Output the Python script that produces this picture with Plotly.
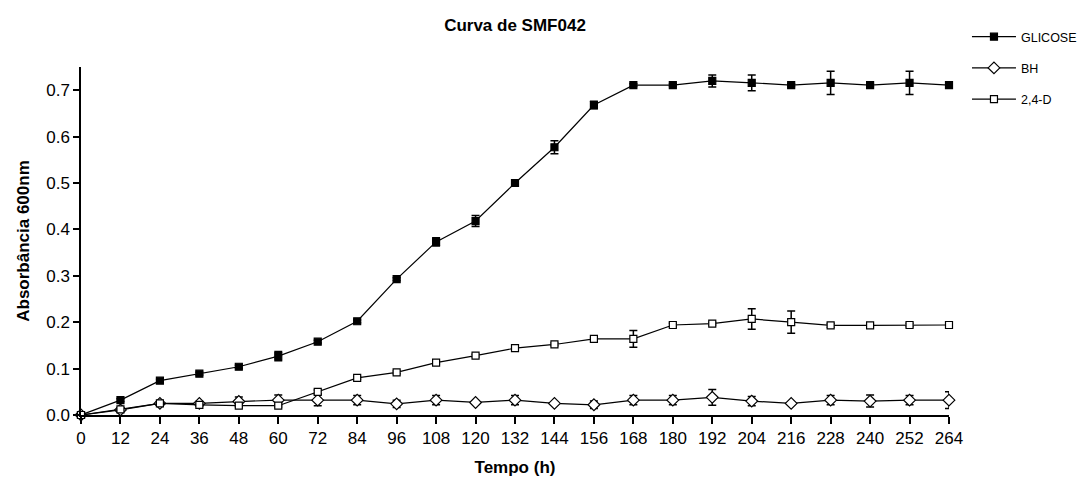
import plotly.graph_objects as go

hours = [0, 12, 24, 36, 48, 60, 72, 84, 96, 108, 120, 132, 144, 156, 168, 180, 192, 204, 216, 228, 240, 252, 264]

glicose = [0.0, 0.032, 0.074, 0.089, 0.104, 0.127, 0.158, 0.202, 0.293, 0.373, 0.418, 0.500, 0.577, 0.668, 0.711,
           0.711, 0.720, 0.716, 0.711, 0.716, 0.711, 0.716, 0.711]
glicose_err = [0.0, 0.003, 0.003, 0.003, 0.003, 0.010, 0.003, 0.003, 0.003, 0.009, 0.012, 0.003, 0.014, 0.008, 0.003,
               0.003, 0.013, 0.017, 0.003, 0.025, 0.003, 0.025, 0.003]

bh = [0.0, 0.011, 0.025, 0.025, 0.029, 0.032, 0.032, 0.032, 0.024, 0.032, 0.027, 0.032, 0.025, 0.022, 0.032,
      0.032, 0.038, 0.030, 0.025, 0.032, 0.030, 0.032, 0.032]
bh_err = [0.0, 0.003, 0.003, 0.003, 0.010, 0.011, 0.012, 0.010, 0.008, 0.010, 0.003, 0.010, 0.003, 0.008, 0.010,
          0.010, 0.017, 0.010, 0.003, 0.010, 0.013, 0.010, 0.018]

d24 = [0.0, 0.012, 0.025, 0.022, 0.020, 0.020, 0.050, 0.080, 0.092, 0.113, 0.128, 0.144, 0.152, 0.164, 0.164,
       0.194, 0.197, 0.207, 0.200, 0.193, 0.193, 0.194, 0.194]
d24_err = [0.0, 0.003, 0.003, 0.003, 0.003, 0.003, 0.004, 0.003, 0.003, 0.003, 0.003, 0.003, 0.003, 0.003, 0.018,
           0.004, 0.003, 0.022, 0.024, 0.004, 0.003, 0.004, 0.003]

tick_vals = [0.0, 0.1, 0.2, 0.3, 0.4, 0.5, 0.6, 0.7]

fig = go.Figure()

def add(name, y, err, symbol, color_fill, size):
    fig.add_trace(go.Scatter(
        x=hours, y=y, name=name, mode="lines+markers", legendgroup=name,
        line=dict(color="black", width=1.2),
        marker=dict(symbol=symbol, size=size, color=color_fill, line=dict(color="black", width=1.2)),
        error_y=dict(type="data", array=err, visible=True, color="black", thickness=1.5, width=4),
        cliponaxis=False,
    ))

add("GLICOSE", glicose, glicose_err, "square", "black", 7)
add("BH", bh, bh_err, "diamond", "white", 9)
add("2,4-D", d24, d24_err, "square", "white", 7)

fig.update_layout(
    width=1084, height=479,
    margin=dict(l=81, r=135, t=67, b=64, autoexpand=False),
    paper_bgcolor="white", plot_bgcolor="white",
    font=dict(family="Liberation Sans, Arial, sans-serif", size=14, color="black"),
    title=dict(text="<b>Curva de SMF042</b>", x=0.5, xref="paper", xanchor="center",
               y=0.948, yanchor="middle", font=dict(size=17)),
    showlegend=True,
    legend=dict(x=1.0207, xref="paper", xanchor="left", y=0.954, yref="container", yanchor="top",
                bgcolor="rgba(0,0,0,0)", font=dict(size=12.5), tracegroupgap=12, itemwidth=44,
                traceorder="grouped"),
    xaxis=dict(
        range=[0, 264], tickmode="array", tickvals=hours, ticktext=[str(h) for h in hours],
        showgrid=False, zeroline=False, showline=True, linecolor="black", linewidth=1.5,
        ticks="outside", ticklen=7, tickwidth=1.5, tickcolor="black", automargin=False,
        title=dict(text="<b>Tempo (h)</b>", font=dict(size=17), standoff=14),
        tickfont=dict(size=17),
    ),
    yaxis=dict(
        range=[0, 0.75], tickmode="array", tickvals=tick_vals, ticktext=[f"{v:.1f}" for v in tick_vals],
        showgrid=False, zeroline=False, showline=True, linecolor="black", linewidth=1.5,
        ticks="outside", ticklen=6, tickwidth=1.5, tickcolor="black", automargin=False,
        title=dict(text="<b>Absorbância 600nm</b>", font=dict(size=17), standoff=12),
        tickfont=dict(size=17),
    ),
)

fig.write_html("out.html")
